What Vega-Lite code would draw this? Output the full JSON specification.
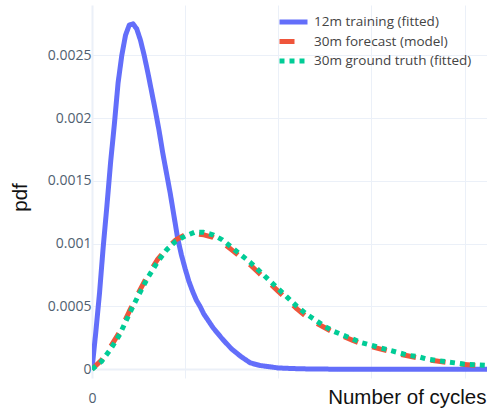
{
  "$schema": "https://vega.github.io/schema/vega-lite/v6.json",
  "autosize": {"type": "none"},
  "width": 395,
  "height": 373,
  "padding": {"left": 92, "top": 5, "right": 0, "bottom": 34},
  "background": "white",
  "config": {
    "view": {"stroke": null},
    "axis": {
      "domain": false,
      "ticks": false,
      "gridColor": "#ebf0f8",
      "labelFont": "Open Sans",
      "labelFontSize": 14,
      "labelColor": "#506070",
      "titleFont": "Liberation Sans",
      "titleFontSize": 20.5,
      "titleFontWeight": "normal",
      "titleColor": "#111111"
    }
  },
  "data": {
    "values": [
      {"x": 0, "pdf": 0, "series": "12m training (fitted)"},
      {"x": 20, "pdf": 0.00029, "series": "12m training (fitted)"},
      {"x": 40, "pdf": 0.0006, "series": "12m training (fitted)"},
      {"x": 60, "pdf": 0.00097, "series": "12m training (fitted)"},
      {"x": 80, "pdf": 0.0013, "series": "12m training (fitted)"},
      {"x": 100, "pdf": 0.00165, "series": "12m training (fitted)"},
      {"x": 120, "pdf": 0.00195, "series": "12m training (fitted)"},
      {"x": 140, "pdf": 0.00228, "series": "12m training (fitted)"},
      {"x": 160, "pdf": 0.0025, "series": "12m training (fitted)"},
      {"x": 180, "pdf": 0.00266, "series": "12m training (fitted)"},
      {"x": 200, "pdf": 0.00274, "series": "12m training (fitted)"},
      {"x": 220, "pdf": 0.00275, "series": "12m training (fitted)"},
      {"x": 240, "pdf": 0.00271, "series": "12m training (fitted)"},
      {"x": 260, "pdf": 0.00262, "series": "12m training (fitted)"},
      {"x": 280, "pdf": 0.0025, "series": "12m training (fitted)"},
      {"x": 300, "pdf": 0.00236, "series": "12m training (fitted)"},
      {"x": 320, "pdf": 0.00221, "series": "12m training (fitted)"},
      {"x": 340, "pdf": 0.00206, "series": "12m training (fitted)"},
      {"x": 360, "pdf": 0.0019, "series": "12m training (fitted)"},
      {"x": 380, "pdf": 0.00172, "series": "12m training (fitted)"},
      {"x": 400, "pdf": 0.00156, "series": "12m training (fitted)"},
      {"x": 420, "pdf": 0.0014, "series": "12m training (fitted)"},
      {"x": 440, "pdf": 0.00122, "series": "12m training (fitted)"},
      {"x": 460, "pdf": 0.00104, "series": "12m training (fitted)"},
      {"x": 480, "pdf": 0.00091, "series": "12m training (fitted)"},
      {"x": 500, "pdf": 0.0008, "series": "12m training (fitted)"},
      {"x": 520, "pdf": 0.0007, "series": "12m training (fitted)"},
      {"x": 540, "pdf": 0.00062, "series": "12m training (fitted)"},
      {"x": 560, "pdf": 0.00055, "series": "12m training (fitted)"},
      {"x": 580, "pdf": 0.0005, "series": "12m training (fitted)"},
      {"x": 600, "pdf": 0.00044, "series": "12m training (fitted)"},
      {"x": 650, "pdf": 0.00033, "series": "12m training (fitted)"},
      {"x": 700, "pdf": 0.00024, "series": "12m training (fitted)"},
      {"x": 750, "pdf": 0.00016, "series": "12m training (fitted)"},
      {"x": 800, "pdf": 0.0001, "series": "12m training (fitted)"},
      {"x": 850, "pdf": 0.00005, "series": "12m training (fitted)"},
      {"x": 900, "pdf": 0.00003, "series": "12m training (fitted)"},
      {"x": 950, "pdf": 0.00002, "series": "12m training (fitted)"},
      {"x": 1000, "pdf": 0.00001, "series": "12m training (fitted)"},
      {"x": 1100, "pdf": 0.000004, "series": "12m training (fitted)"},
      {"x": 1200, "pdf": 0.000001, "series": "12m training (fitted)"},
      {"x": 1400, "pdf": 0, "series": "12m training (fitted)"},
      {"x": 1700, "pdf": 0, "series": "12m training (fitted)"},
      {"x": 2120, "pdf": 0, "series": "12m training (fitted)"},

      {"x": 0, "pdf": 0, "series": "30m forecast (model)"},
      {"x": 50, "pdf": 0.00007, "series": "30m forecast (model)"},
      {"x": 100, "pdf": 0.00018, "series": "30m forecast (model)"},
      {"x": 150, "pdf": 0.0003, "series": "30m forecast (model)"},
      {"x": 200, "pdf": 0.00046, "series": "30m forecast (model)"},
      {"x": 250, "pdf": 0.00061, "series": "30m forecast (model)"},
      {"x": 300, "pdf": 0.00075, "series": "30m forecast (model)"},
      {"x": 350, "pdf": 0.00087, "series": "30m forecast (model)"},
      {"x": 400, "pdf": 0.00096, "series": "30m forecast (model)"},
      {"x": 450, "pdf": 0.00103, "series": "30m forecast (model)"},
      {"x": 500, "pdf": 0.00107, "series": "30m forecast (model)"},
      {"x": 550, "pdf": 0.00108, "series": "30m forecast (model)"},
      {"x": 600, "pdf": 0.00107, "series": "30m forecast (model)"},
      {"x": 650, "pdf": 0.00105, "series": "30m forecast (model)"},
      {"x": 700, "pdf": 0.00101, "series": "30m forecast (model)"},
      {"x": 750, "pdf": 0.00095, "series": "30m forecast (model)"},
      {"x": 800, "pdf": 0.00089, "series": "30m forecast (model)"},
      {"x": 850, "pdf": 0.00083, "series": "30m forecast (model)"},
      {"x": 900, "pdf": 0.00076, "series": "30m forecast (model)"},
      {"x": 950, "pdf": 0.00069, "series": "30m forecast (model)"},
      {"x": 1000, "pdf": 0.00062, "series": "30m forecast (model)"},
      {"x": 1050, "pdf": 0.00055, "series": "30m forecast (model)"},
      {"x": 1100, "pdf": 0.00048, "series": "30m forecast (model)"},
      {"x": 1150, "pdf": 0.00042, "series": "30m forecast (model)"},
      {"x": 1200, "pdf": 0.00037, "series": "30m forecast (model)"},
      {"x": 1250, "pdf": 0.00033, "series": "30m forecast (model)"},
      {"x": 1300, "pdf": 0.00029, "series": "30m forecast (model)"},
      {"x": 1350, "pdf": 0.00026, "series": "30m forecast (model)"},
      {"x": 1400, "pdf": 0.00023, "series": "30m forecast (model)"},
      {"x": 1450, "pdf": 0.0002, "series": "30m forecast (model)"},
      {"x": 1500, "pdf": 0.00018, "series": "30m forecast (model)"},
      {"x": 1550, "pdf": 0.00016, "series": "30m forecast (model)"},
      {"x": 1600, "pdf": 0.00014, "series": "30m forecast (model)"},
      {"x": 1650, "pdf": 0.00012, "series": "30m forecast (model)"},
      {"x": 1700, "pdf": 0.000105, "series": "30m forecast (model)"},
      {"x": 1750, "pdf": 0.00009, "series": "30m forecast (model)"},
      {"x": 1800, "pdf": 0.000075, "series": "30m forecast (model)"},
      {"x": 1850, "pdf": 0.000065, "series": "30m forecast (model)"},
      {"x": 1900, "pdf": 0.000055, "series": "30m forecast (model)"},
      {"x": 1950, "pdf": 0.000045, "series": "30m forecast (model)"},
      {"x": 2000, "pdf": 0.000038, "series": "30m forecast (model)"},
      {"x": 2050, "pdf": 0.000032, "series": "30m forecast (model)"},
      {"x": 2120, "pdf": 0.000027, "series": "30m forecast (model)"},

      {"x": 0, "pdf": 0, "series": "30m ground truth (fitted)"},
      {"x": 50, "pdf": 0.00006, "series": "30m ground truth (fitted)"},
      {"x": 100, "pdf": 0.00016, "series": "30m ground truth (fitted)"},
      {"x": 150, "pdf": 0.00028, "series": "30m ground truth (fitted)"},
      {"x": 200, "pdf": 0.00044, "series": "30m ground truth (fitted)"},
      {"x": 250, "pdf": 0.00059, "series": "30m ground truth (fitted)"},
      {"x": 300, "pdf": 0.00073, "series": "30m ground truth (fitted)"},
      {"x": 350, "pdf": 0.00085, "series": "30m ground truth (fitted)"},
      {"x": 400, "pdf": 0.00095, "series": "30m ground truth (fitted)"},
      {"x": 450, "pdf": 0.00102, "series": "30m ground truth (fitted)"},
      {"x": 500, "pdf": 0.00106, "series": "30m ground truth (fitted)"},
      {"x": 550, "pdf": 0.00109, "series": "30m ground truth (fitted)"},
      {"x": 600, "pdf": 0.00109, "series": "30m ground truth (fitted)"},
      {"x": 650, "pdf": 0.00107, "series": "30m ground truth (fitted)"},
      {"x": 700, "pdf": 0.00103, "series": "30m ground truth (fitted)"},
      {"x": 750, "pdf": 0.00097, "series": "30m ground truth (fitted)"},
      {"x": 800, "pdf": 0.00091, "series": "30m ground truth (fitted)"},
      {"x": 850, "pdf": 0.00085, "series": "30m ground truth (fitted)"},
      {"x": 900, "pdf": 0.00078, "series": "30m ground truth (fitted)"},
      {"x": 950, "pdf": 0.00071, "series": "30m ground truth (fitted)"},
      {"x": 1000, "pdf": 0.00064, "series": "30m ground truth (fitted)"},
      {"x": 1050, "pdf": 0.00057, "series": "30m ground truth (fitted)"},
      {"x": 1100, "pdf": 0.0005, "series": "30m ground truth (fitted)"},
      {"x": 1150, "pdf": 0.00044, "series": "30m ground truth (fitted)"},
      {"x": 1200, "pdf": 0.00039, "series": "30m ground truth (fitted)"},
      {"x": 1250, "pdf": 0.00034, "series": "30m ground truth (fitted)"},
      {"x": 1300, "pdf": 0.0003, "series": "30m ground truth (fitted)"},
      {"x": 1350, "pdf": 0.00027, "series": "30m ground truth (fitted)"},
      {"x": 1400, "pdf": 0.00024, "series": "30m ground truth (fitted)"},
      {"x": 1450, "pdf": 0.00021, "series": "30m ground truth (fitted)"},
      {"x": 1500, "pdf": 0.00019, "series": "30m ground truth (fitted)"},
      {"x": 1550, "pdf": 0.00017, "series": "30m ground truth (fitted)"},
      {"x": 1600, "pdf": 0.00015, "series": "30m ground truth (fitted)"},
      {"x": 1650, "pdf": 0.00013, "series": "30m ground truth (fitted)"},
      {"x": 1700, "pdf": 0.00011, "series": "30m ground truth (fitted)"},
      {"x": 1750, "pdf": 0.0001, "series": "30m ground truth (fitted)"},
      {"x": 1800, "pdf": 0.00008, "series": "30m ground truth (fitted)"},
      {"x": 1850, "pdf": 0.00007, "series": "30m ground truth (fitted)"},
      {"x": 1900, "pdf": 0.00006, "series": "30m ground truth (fitted)"},
      {"x": 1950, "pdf": 0.00005, "series": "30m ground truth (fitted)"},
      {"x": 2000, "pdf": 0.00004, "series": "30m ground truth (fitted)"},
      {"x": 2050, "pdf": 0.000035, "series": "30m ground truth (fitted)"},
      {"x": 2120, "pdf": 0.00003, "series": "30m ground truth (fitted)"}
    ]
  },
  "mark": {"type": "line", "strokeWidth": 5, "strokeCap": "butt", "strokeJoin": "round", "clip": true},
  "encoding": {
    "x": {
      "field": "x",
      "type": "quantitative",
      "scale": {"domain": [0, 2120], "nice": false, "zero": false},
      "axis": {
        "values": [0, 500, 1000, 1500, 2000],
        "labelExpr": "datum.value == 0 ? '0' : ''",
        "labelFlush": false,
        "labelPadding": 13,
        "labelBaseline": "top",
        "gridWidth": {"condition": {"test": "datum.value === 0", "value": 2}, "value": 1},
        "title": "Number of cycles",
        "titleAnchor": "end",
        "titleAlign": "right",
        "titleBaseline": "middle",
        "titleX": 394,
        "titleY": 19
      }
    },
    "y": {
      "field": "pdf",
      "type": "quantitative",
      "scale": {"domain": [-0.00007, 0.0029], "nice": false, "zero": false},
      "axis": {
        "values": [0, 0.0005, 0.001, 0.0015, 0.002, 0.0025],
        "format": "~g",
        "labelPadding": 1,
        "gridWidth": {"condition": {"test": "datum.value === 0", "value": 2}, "value": 1},
        "title": "pdf",
        "titleAngle": 270,
        "titleAlign": "center",
        "titleBaseline": "middle",
        "titleX": -72,
        "titleY": 192
      }
    },
    "color": {
      "field": "series",
      "type": "nominal",
      "scale": {
        "domain": ["12m training (fitted)", "30m forecast (model)", "30m ground truth (fitted)"],
        "range": ["#636efa", "#ef553b", "#00cc96"]
      },
      "legend": {
        "title": null,
        "orient": "none",
        "legendX": 185,
        "legendY": 8,
        "symbolType": "stroke",
        "symbolSize": 784,
        "symbolStrokeWidth": 5,
        "clipHeight": 18,
        "rowPadding": 1.5,
        "labelOffset": 4,
        "labelFont": "Open Sans",
        "labelFontSize": 13.5,
        "labelLimit": 400,
        "labelColor": "#444444",
        "padding": 0
      }
    },
    "strokeDash": {
      "field": "series",
      "type": "nominal",
      "scale": {
        "domain": ["12m training (fitted)", "30m forecast (model)", "30m ground truth (fitted)"],
        "range": [[1, 0], [15, 15], [5, 5]]
      },
      "legend": {
        "title": null,
        "orient": "none",
        "legendX": 185,
        "legendY": 8,
        "symbolType": "stroke",
        "symbolSize": 784,
        "symbolStrokeWidth": 5,
        "clipHeight": 18,
        "rowPadding": 1.5,
        "labelOffset": 4,
        "labelFont": "Open Sans",
        "labelFontSize": 13.5,
        "labelLimit": 400,
        "labelColor": "#444444",
        "padding": 0
      }
    }
  }
}
